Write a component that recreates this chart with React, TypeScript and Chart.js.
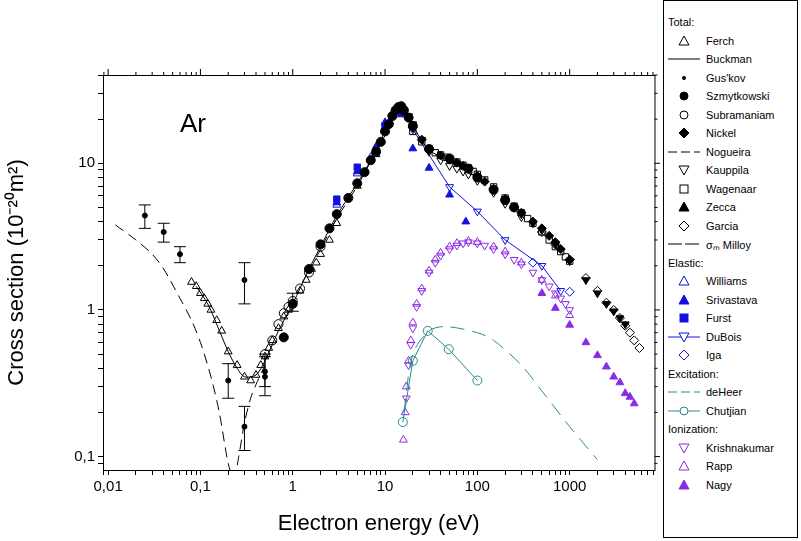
import React, { useEffect, useRef } from "react";
import { Chart, registerables } from "chart.js";
Chart.register(...registerables);

const BLACK = "#000000", BLUE = "#1010e0", PURPLE = "#8b2be8", TEAL = "#2a8a8a";

const xTickLabels = ["0,01", "0,1", "1", "10", "100", "1000"];
const yTickLabels = ["0,1", "1", "10"];

const buckmanE = [0.09, 0.12, 0.15, 0.2, 0.25, 0.3, 0.4, 0.5, 0.7, 1, 1.5, 2, 3, 5, 7, 10, 13, 15, 18, 20, 30, 50, 100];
const buckmanV = [1.45, 1.1, 0.8, 0.52, 0.4, 0.35, 0.36, 0.45, 0.72, 1.1, 1.9, 2.7, 4.4, 7.3, 10.5, 16.5, 23.5, 24, 20, 18, 12.3, 10.5, 8.0];
const ferchE = [0.08, 0.09, 0.1, 0.11, 0.12, 0.13, 0.15, 0.17, 0.2, 0.25, 0.3, 0.35, 0.4, 0.45, 0.5, 0.55, 0.6, 0.7, 0.8, 0.9, 1, 1.2, 1.4, 1.6, 1.8, 2, 2.5, 3, 5, 8];
const ferchV = [1.55, 1.45, 1.3, 1.2, 1.1, 1.0, 0.85, 0.72, 0.52, 0.42, 0.35, 0.33, 0.36, 0.42, 0.48, 0.55, 0.62, 0.75, 0.9, 1.0, 1.1, 1.35, 1.6, 1.9, 2.1, 2.4, 3.0, 3.9, 7.0, 11.5];
const guskovE = [0.025, 0.04, 0.06, 0.2, 0.3, 0.3, 0.5, 0.5, 1];
const guskovV = [4.4, 3.4, 2.4, 0.33, 1.6, 0.16, 0.35, 0.38, 1.1];
const guskovLo = [3.6, 2.9, 2.1, 0.25, 1.1, 0.11, 0.26, 0.3, 0.98];
const guskovHi = [5.2, 3.9, 2.7, 0.43, 2.1, 0.22, 0.48, 0.5, 1.3];
const szmE = [0.8, 1, 1.5, 2, 2.5, 3, 4, 5, 6, 7, 8, 9, 10, 11, 12, 13, 14, 15, 16, 18, 20, 30, 50, 80, 100, 150, 200, 250];
const szmV = [0.65, 1.1, 1.9, 2.8, 3.6, 4.5, 5.8, 7.3, 8.7, 10.5, 12, 14, 16.5, 18.5, 21, 23, 24.2, 24.5, 23, 20.5, 18, 12.5, 10.8, 9.2, 8.0, 6.6, 5.6, 5.0];
const subE = [0.5, 0.6, 0.7, 0.8, 0.9, 1, 1.2, 1.5, 2];
const subV = [0.5, 0.62, 0.8, 0.95, 1.05, 1.15, 1.4, 1.8, 2.7];
const nickelE = [20, 25, 30, 40, 50, 60, 70, 80, 100, 120, 150, 200, 250, 300, 400, 500, 600, 700, 800, 1000];
const nickelV = [17.5, 14.5, 12.3, 11.3, 10.6, 10.1, 9.6, 9.1, 8.2, 7.5, 6.7, 5.7, 5.0, 4.6, 4.0, 3.6, 3.2, 2.9, 2.6, 2.2];
const noguE = [0.012, 0.02, 0.03, 0.04, 0.06, 0.08, 0.1, 0.13, 0.16, 0.2, 0.23, 0.26, 0.3, 0.35, 0.4, 0.5];
const noguV = [3.8, 3.0, 2.4, 1.9, 1.2, 0.85, 0.6, 0.35, 0.2, 0.09, 0.07, 0.1, 0.17, 0.25, 0.31, 0.42];
const kauE = [16, 18, 20, 25, 30, 40, 50, 60, 70, 80, 100, 150, 200, 300];
const kauV = [23, 21, 18.5, 14.5, 12, 10.5, 9.6, 9.2, 8.8, 8.4, 7.6, 6.3, 5.3, 4.3];
const wagE = [20, 25, 30, 35, 40, 45, 50, 60, 70, 80, 90, 100, 120, 150, 200, 250, 300, 350, 400, 500, 600, 700, 800, 900, 1000];
const wagV = [16.5, 14, 12.6, 11.8, 11.4, 11.0, 10.7, 10.2, 9.7, 9.3, 8.8, 8.4, 7.7, 6.9, 5.8, 5.1, 4.6, 4.2, 3.9, 3.4, 3.0, 2.7, 2.5, 2.3, 2.15];
const zeccaE = [100, 150, 200, 300, 400, 500, 700, 1000, 1500, 2000, 2500, 3000, 3500, 4000];
const zeccaV = [8.0, 6.6, 5.7, 4.5, 3.9, 3.5, 2.8, 2.15, 1.6, 1.3, 1.1, 0.98, 0.88, 0.8];
const garciaE = [500, 700, 1000, 1500, 2000, 2500, 3000, 3500, 4000, 4500, 5000, 5700];
const garciaV = [3.4, 2.8, 2.2, 1.65, 1.35, 1.12, 1.0, 0.88, 0.78, 0.7, 0.62, 0.55];
const milloyE = [2, 3, 5, 8, 10];
const milloyV = [2.6, 4.2, 7.0, 12, 15.5];
const williamsE = [3, 5, 7, 10, 12, 15];
const williamsV = [5.2, 8.5, 11, 17, 21.5, 24];
const srivE = [3, 5, 8, 10, 15, 20, 30, 50, 75];
const srivV = [5.4, 8.8, 13, 19, 21.5, 12.6, 9.3, 6.1, 4.0];
const furstE = [3, 5, 10, 15];
const furstV = [5.7, 9.4, 18, 22];
const duboisE = [20, 50, 100, 200, 500, 800];
const duboisV = [17, 6.9, 4.7, 3.0, 2.0, 1.35];
const igaE = [400, 1000];
const igaV = [2.1, 1.33];
const deheerE = [16, 20, 30, 45, 100, 150, 300, 500, 1000, 2000];
const deheerV = [0.2, 0.5, 0.72, 0.77, 0.7, 0.62, 0.42, 0.28, 0.16, 0.095];
const chutE = [15.6, 20, 29, 49, 100];
const chutV = [0.172, 0.45, 0.72, 0.54, 0.33];
const krishE = [17, 18, 19, 20, 22, 25, 30, 35, 40, 50, 60, 70, 80, 100, 120, 150, 200, 250, 300, 400, 500, 600, 700, 800, 900, 1000];
const krishV = [0.25, 0.42, 0.58, 0.75, 1.05, 1.35, 1.8, 2.1, 2.35, 2.6, 2.75, 2.85, 2.9, 2.85, 2.75, 2.6, 2.4, 2.2, 2.05, 1.8, 1.6, 1.45, 1.3, 1.2, 1.1, 1.0];
const rappE = [15.8, 16.5, 17, 18, 19, 20, 22, 25, 30, 35, 40, 50, 60, 80, 100, 150, 200, 300, 500, 700, 1000];
const rappV = [0.13, 0.2, 0.3, 0.45, 0.62, 0.82, 1.1, 1.4, 1.85, 2.2, 2.45, 2.7, 2.85, 2.95, 2.9, 2.7, 2.5, 2.1, 1.6, 1.25, 0.92];
const nagyE = [500, 700, 1000, 1500, 2000, 2500, 3000, 3500, 4000, 4500, 5000];
const nagyV = [1.3, 1.03, 0.79, 0.6, 0.49, 0.41, 0.35, 0.32, 0.27, 0.255, 0.23];

const pts = (e: number[], v: number[]) => e.map((x, i) => ({ x, y: v[i] }));

type Spec = { label: string; e: number[]; v: number[]; color: string; style?: string; fill?: boolean; rot?: number; line?: boolean; dash?: number[]; r?: number };
const specs: Spec[] = [
  { label: "Buckman", e: buckmanE, v: buckmanV, color: BLACK, line: true },
  { label: "Nogueira", e: noguE, v: noguV, color: BLACK, line: true, dash: [10, 6] },
  { label: "Milloy", e: milloyE, v: milloyV, color: BLACK, line: true, dash: [14, 4] },
  { label: "deHeer", e: deheerE, v: deheerV, color: TEAL, line: true, dash: [14, 8] },
  { label: "Ferch", e: ferchE, v: ferchV, color: BLACK, style: "triangle" },
  { label: "Gus'kov", e: guskovE, v: guskovV, color: BLACK, style: "circle", fill: true, r: 2.5 },
  { label: "Subramaniam", e: subE, v: subV, color: BLACK, style: "circle" },
  { label: "Kauppila", e: kauE, v: kauV, color: BLACK, style: "triangle", rot: 180 },
  { label: "Wagenaar", e: wagE, v: wagV, color: BLACK, style: "rect" },
  { label: "Szmytkowski", e: szmE, v: szmV, color: BLACK, style: "circle", fill: true },
  { label: "Nickel", e: nickelE, v: nickelV, color: BLACK, style: "rectRot", fill: true },
  { label: "Zecca", e: zeccaE, v: zeccaV, color: BLACK, style: "triangle", fill: true, rot: 180 },
  { label: "Garcia", e: garciaE, v: garciaV, color: BLACK, style: "rectRot" },
  { label: "Williams", e: williamsE, v: williamsV, color: BLUE, style: "triangle" },
  { label: "Srivastava", e: srivE, v: srivV, color: BLUE, style: "triangle", fill: true },
  { label: "Furst", e: furstE, v: furstV, color: BLUE, style: "rect", fill: true },
  { label: "DuBois", e: duboisE, v: duboisV, color: BLUE, style: "triangle", rot: 180, line: true },
  { label: "Iga", e: igaE, v: igaV, color: BLUE, style: "rectRot" },
  { label: "Chutjian", e: chutE, v: chutV, color: TEAL, style: "circle", line: true },
  { label: "Krishnakumar", e: krishE, v: krishV, color: PURPLE, style: "triangle", rot: 180 },
  { label: "Rapp", e: rappE, v: rappV, color: PURPLE, style: "triangle" },
  { label: "Nagy", e: nagyE, v: nagyV, color: PURPLE, style: "triangle", fill: true },
];

const boxPlugin = {
  id: "extras",
  afterDatasetsDraw(chart: any) {
    const { ctx, chartArea: a, scales } = chart;
    ctx.save();
    ctx.strokeStyle = "#000";
    ctx.lineWidth = 1;
    // error bars
    const xs = scales.x, ys = scales.y;
    guskovE.forEach((e, i) => {
      const px = xs.getPixelForValue(e);
      const lo = ys.getPixelForValue(guskovLo[i]);
      const hi = ys.getPixelForValue(guskovHi[i]);
      ctx.beginPath();
      ctx.moveTo(px, lo); ctx.lineTo(px, hi);
      ctx.moveTo(px - 6, lo); ctx.lineTo(px + 6, lo);
      ctx.moveTo(px - 6, hi); ctx.lineTo(px + 6, hi);
      ctx.stroke();
    });
    ctx.strokeRect(a.left + 0.5, a.top + 0.5, a.width, a.height);
    // mirrored ticks on top/right
    ctx.beginPath();
    xs.ticks.forEach((t: any) => {
      const px = xs.getPixelForValue(t.value);
      const len = t.label ? 6 : 3;
      ctx.moveTo(px, a.top); ctx.lineTo(px, a.top - len);
    });
    ys.ticks.forEach((t: any) => {
      const py = ys.getPixelForValue(t.value);
      const len = t.label ? 6 : 3;
      ctx.moveTo(a.right, py); ctx.lineTo(a.right + len, py);
    });
    ctx.stroke();
    ctx.fillStyle = "#000";
    ctx.font = "26px 'Liberation Sans', Arial";
    ctx.fillText("Ar", 180, 132);
    ctx.restore();
  },
};

const mkTicks = (min: number, max: number) => {
  const t: { value: number; major: boolean }[] = [];
  for (let d = Math.floor(Math.log10(min)); d <= Math.ceil(Math.log10(max)); d++) {
    for (let k = 1; k < 10; k++) {
      const v = k * Math.pow(10, d);
      if (v >= min && v <= max) t.push({ value: v, major: k === 1 });
    }
  }
  return t;
};

function ChartView() {
  const ref = useRef<HTMLCanvasElement>(null);
  useEffect(() => {
    const datasets = specs.map((s) => ({
      label: s.label,
      data: pts(s.e, s.v),
      borderColor: s.color,
      backgroundColor: s.fill ? s.color : "rgba(255,255,255,0)",
      pointStyle: (s.style || "circle") as any,
      pointRotation: s.rot || 0,
      pointRadius: s.style ? s.r || 4.5 : 0,
      pointBorderWidth: 1,
      showLine: !!s.line,
      borderWidth: 1,
      borderDash: s.dash || [],
      tension: s.line && !s.style ? 0.3 : 0,
    }));
    const fmtX: Record<string, string> = { "0.01": xTickLabels[0], "0.1": xTickLabels[1], "1": xTickLabels[2], "10": xTickLabels[3], "100": xTickLabels[4], "1000": xTickLabels[5] };
    const fmtY: Record<string, string> = { "0.1": yTickLabels[0], "1": yTickLabels[1], "10": yTickLabels[2] };
    const chart = new Chart(ref.current!, {
      type: "scatter",
      data: { datasets },
      plugins: [boxPlugin],
      options: {
        animation: false,
        responsive: false,
        layout: { padding: { top: 75, right: 5, left: 0, bottom: 0 } },
        plugins: { legend: { display: false }, tooltip: { enabled: false } },
        scales: {
          x: {
            type: "logarithmic", min: 0.0088, max: 8300,
            afterBuildTicks: (s: any) => { s.ticks = mkTicks(0.0088, 8300); },
            afterFit: (s: any) => { s.height = 71; },
            grid: { drawOnChartArea: false, tickLength: 5, color: "#000" },
            border: { color: "#000" },
            ticks: { autoSkip: false, maxRotation: 0, color: "#000", font: { size: 15, family: "'Liberation Sans', Arial" }, callback: (v: any) => fmtX[String(v)] || "" },
            title: { display: true, text: "Electron energy (eV)", color: "#000", font: { size: 22, family: "'Liberation Sans', Arial" }, padding: { top: 4 } },
          },
          y: {
            type: "logarithmic", min: 0.081, max: 40,
            afterBuildTicks: (s: any) => { s.ticks = mkTicks(0.081, 40); },
            afterFit: (s: any) => { s.width = 103; },
            grid: { drawOnChartArea: false, tickLength: 5, color: "#000" },
            border: { color: "#000" },
            ticks: { autoSkip: false, color: "#000", font: { size: 15, family: "'Liberation Sans', Arial" }, callback: (v: any) => fmtY[String(v)] || "" },
            title: { display: true, text: "Cross section (10⁻²⁰m²)", color: "#000", font: { size: 22, family: "'Liberation Sans', Arial" } },
          },
        },
      },
    });
    return () => chart.destroy();
  }, []);
  return <canvas ref={ref} width={660} height={541} style={{ position: "absolute", left: 0, top: 0 }} />;
}

type LegRow = { header?: string; label?: string; color?: string; sym?: string; fill?: boolean; line?: string };
const legendRows: LegRow[] = [
  { header: "Total:" },
  { label: "Ferch", sym: "tri" },
  { label: "Buckman", line: "solid" },
  { label: "Gus'kov", sym: "dot", fill: true },
  { label: "Szmytkowski", sym: "circle", fill: true },
  { label: "Subramaniam", sym: "circle" },
  { label: "Nickel", sym: "diamond", fill: true },
  { label: "Nogueira", line: "dash" },
  { label: "Kauppila", sym: "itri" },
  { label: "Wagenaar", sym: "square" },
  { label: "Zecca", sym: "tri", fill: true },
  { label: "Garcia", sym: "diamond" },
  { label: "σ\u2098 Milloy", line: "longdash" },
  { header: "Elastic:" },
  { label: "Williams", sym: "tri", color: BLUE },
  { label: "Srivastava", sym: "tri", fill: true, color: BLUE },
  { label: "Furst", sym: "square", fill: true, color: BLUE },
  { label: "DuBois", sym: "itri", line: "solid", color: BLUE },
  { label: "Iga", sym: "diamond", color: BLUE },
  { header: "Excitation:" },
  { label: "deHeer", line: "dash", color: TEAL },
  { label: "Chutjian", sym: "circle", line: "solid", color: TEAL },
  { header: "Ionization:" },
  { label: "Krishnakumar", sym: "itri", color: PURPLE },
  { label: "Rapp", sym: "tri", color: PURPLE },
  { label: "Nagy", sym: "tri", fill: true, color: PURPLE },
];

function Sym({ r }: { r: LegRow }) {
  const c = r.color || BLACK;
  const f = r.fill ? c : "none";
  const lines: any = { solid: undefined, dash: "9 4", longdash: "14 3" };
  return (
    <svg width={40} height={14} style={{ flex: "none" }}>
      {r.line && <line x1={4} x2={36} y1={7} y2={7} stroke={c} strokeWidth={1} strokeDasharray={lines[r.line]} />}
      {r.sym === "tri" && <polygon points="20,2 25,11 15,11" fill={r.fill ? c : "#fff"} stroke={c} />}
      {r.sym === "itri" && <polygon points="15,3 25,3 20,12" fill="#fff" stroke={c} />}
      {r.sym === "dot" && <circle cx={20} cy={7} r={2} fill={c} />}
      {r.sym === "circle" && <circle cx={20} cy={7} r={4} fill={r.fill ? c : "#fff"} stroke={c} />}
      {r.sym === "diamond" && <polygon points="20,2 25,7 20,12 15,7" fill={r.fill ? c : "#fff"} stroke={c} />}
      {r.sym === "square" && <rect x={16} y={3} width={8} height={8} fill={r.fill ? c : "#fff"} stroke={c} />}
      {f === "x" && null}
    </svg>
  );
}

export default function App() {
  return (
    <div style={{ position: "fixed", left: 0, top: 0, width: 801, height: 541, background: "#fff", overflow: "hidden" }}>
      <ChartView />
      <div style={{ position: "absolute", left: 663, top: 0, width: 135, height: 538, border: "1px solid #000", fontFamily: "'Liberation Sans', Arial", fontSize: 11, color: "#000", paddingTop: 12, boxSizing: "border-box" }}>
        {legendRows.map((r, i) => (
          <div key={i} style={{ height: 18.5, display: "flex", alignItems: "center", paddingLeft: r.header ? 4 : 0 }}>
            {r.header ? <span>{r.header}</span> : (<><Sym r={r} /><span style={{ marginLeft: 2 }}>{r.label}</span></>)}
          </div>
        ))}
      </div>
    </div>
  );
}
